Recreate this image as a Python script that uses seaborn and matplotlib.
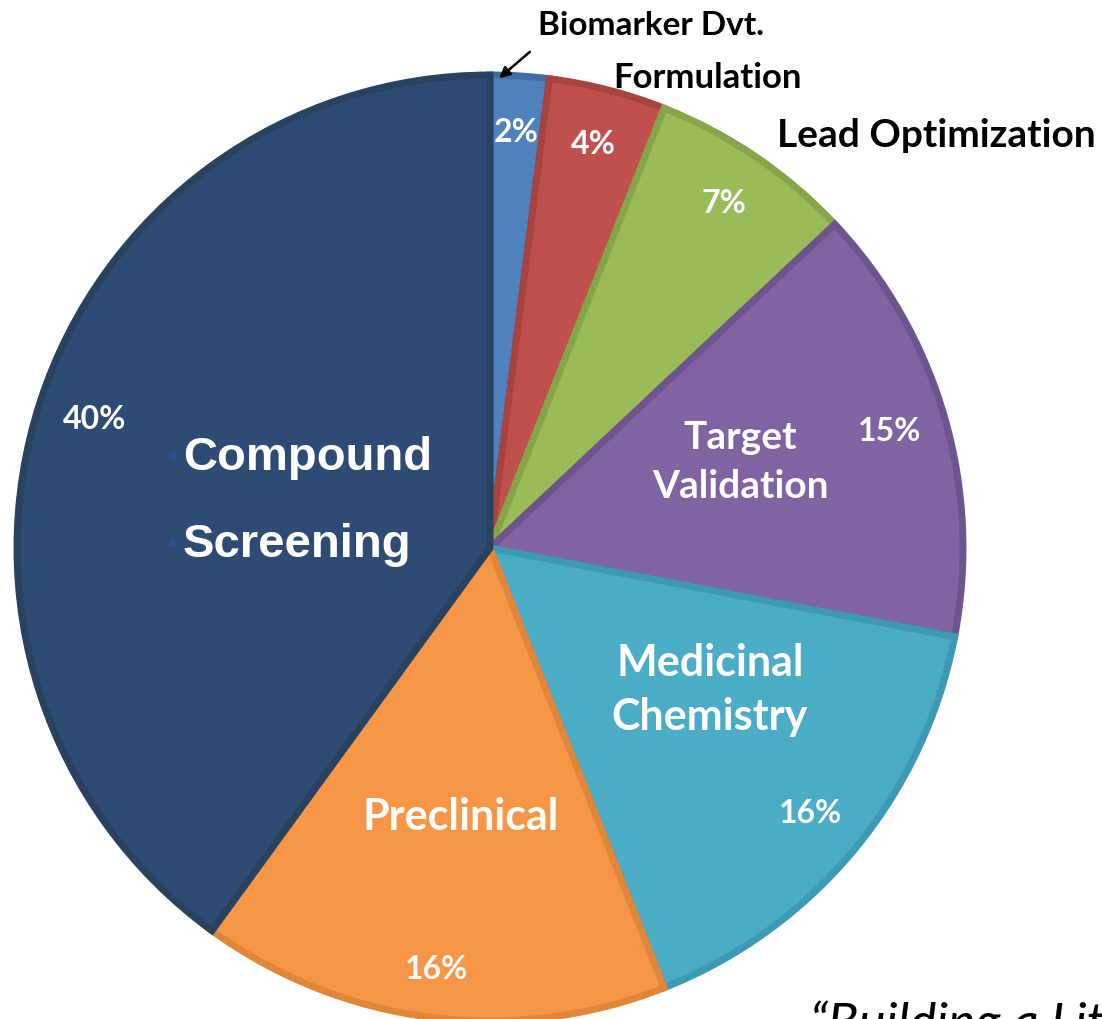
import matplotlib

matplotlib.use("Agg")
import matplotlib.pyplot as plt
import numpy as np
import seaborn as sns

# Share of effort by drug-discovery stage, clockwise from 12 o'clock
stages = [
    "Biomarker Dvt.",
    "Formulation",
    "Lead Optimization",
    "Target Validation",
    "Medicinal Chemistry",
    "Preclinical",
    "Compound Screening",
]
shares = [2, 4, 7, 15, 16, 16, 40]

fills = ["#4F81BD", "#C0504D", "#9BBB59", "#8064A2", "#4BACC6", "#F79646", "#2E4B73"]
edges = ["#3F6DA6", "#A8433F", "#86A548", "#6D548E", "#3E99B2", "#E0863A", "#28425F"]

sns.set_theme(style="white")
plt.rcParams["font.family"] = ["Lato", "DejaVu Sans"]

W, H = 1102, 1019
R = 473.0
CX, CY = 490.0, 548.0

fig = plt.figure(figsize=(W / 100, H / 100), dpi=100)
ax = fig.add_axes([0, 0, 1, 1])

wedges, _, pct_texts = ax.pie(
    shares,
    colors=fills,
    startangle=90,
    counterclock=False,
    autopct="%d%%",
    pctdistance=0.88,
    wedgeprops={"linewidth": 5},
    textprops={"color": "white", "fontsize": 23, "fontweight": "bold"},
)
for w, ec in zip(wedges, edges):
    w.set_edgecolor(ec)
px, py = pct_texts[5].get_position()
pct_texts[5].set_position((px * 1.02, py * 1.02))

ax.set_xlim(-CX / R, (W - CX) / R)
ax.set_ylim(-(H - CY) / R, CY / R)
ax.set_aspect("equal")
ax.axis("off")

# inner category labels: text, distance from centre, angle nudge (deg), size, line spacing
inner = {
    "Target Validation": ("Target\nValidation", 0.56, 2.7, 28, 1.5),
    "Medicinal Chemistry": ("Medicinal\nChemistry", 0.553, 6.8, 31, 1.42),
    "Preclinical": ("Preclinical", 0.572, 0.9, 31, 1.2),
}
for w, name in zip(wedges, stages):
    if name not in inner:
        continue
    label, dist, nudge, size, spacing = inner[name]
    mid = np.deg2rad((w.theta1 + w.theta2) / 2 + nudge)
    ax.text(
        dist * np.cos(mid), dist * np.sin(mid), label,
        ha="center", va="center", color="white", fontsize=size,
        fontweight="bold", linespacing=spacing,
    )

# Compound Screening, left-aligned with bullets
cs_x = (183 - CX) / R
for line, ly in [("Compound", 458), ("Screening", 545)]:
    ax.text(cs_x, (CY - ly) / R, line, ha="left", va="center", color="white",
            fontsize=34, fontweight="bold", family=["Liberation Sans", "DejaVu Sans"])
    ax.text(cs_x - 0.003, (CY - ly) / R, "\u2022", ha="right", va="center",
            color="#2A5290", fontsize=20, family=["DejaVu Sans"])

# outside labels
ax.text((651 - CX) / R, (CY - 25) / R, "Biomarker Dvt.", ha="center", va="center",
        color="black", fontsize=24, fontweight="bold")
ax.text((708 - CX) / R, (CY - 78) / R, "Formulation", ha="center", va="center",
        color="black", fontsize=25, fontweight="bold")
ax.text((936 - CX) / R, (CY - 135) / R, "Lead Optimization", ha="center", va="center",
        color="black", fontsize=28, fontweight="bold")
ax.annotate(
    "", xy=((497 - CX) / R, (CY - 80) / R), xytext=((532 - CX) / R, (CY - 50) / R),
    arrowprops={"arrowstyle": "-|>", "color": "black", "lw": 1.8, "mutation_scale": 16},
)

# citation text running off the bottom edge, as in the source slide
fig.text(810 / W, 1 - 1000 / H, "\u201cBuilding a Little", ha="left", va="top",
         fontsize=37, style="italic", color="black")

fig.savefig("out.png", dpi=100)
